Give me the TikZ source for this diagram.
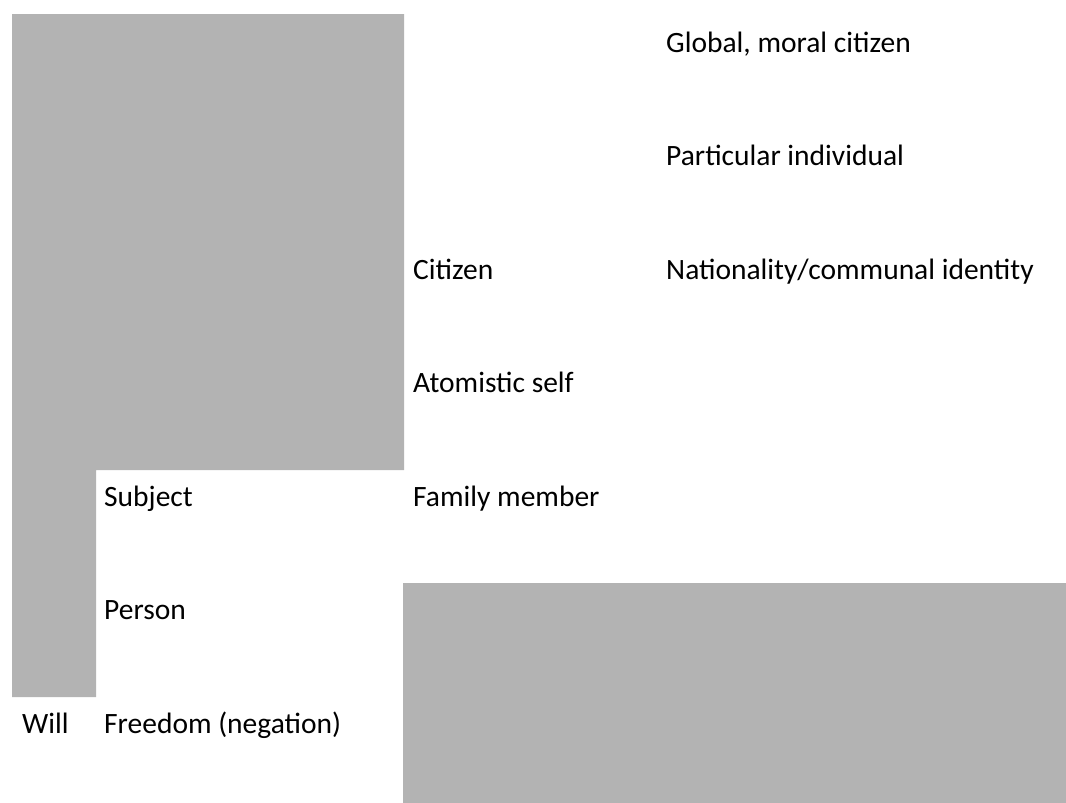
\documentclass[tikz,border=0pt]{standalone}
\usepackage{fontspec}
\setmainfont{Carlito}
\definecolor{shade}{RGB}{179,179,179}
\begin{document}
\begin{tikzpicture}[x=1pt,y=-1pt,
  lbl/.style={anchor=base west,inner sep=0pt,font=\fontsize{29.5}{35}\selectfont,text=black},
  block/.style={fill=shade,draw=none}]
\useasboundingbox (0,0) rectangle (1066,803);
\fill[block] (12,14) -- (404,14) -- (404,470) -- (96,470) -- (96,697) -- (12,697) -- cycle;
\fill[block] (403,583) rectangle (1066,803);
\node[lbl] (global) at (666,52) {Global, moral citizen};
\node[lbl] (partic) at (666,165.5) {Particular individual};
\node[lbl] (citizen) at (413,279) {Citizen};
\node[lbl] (nation) at (666,279) {Nationality/communal identity};
\node[lbl] (atom) at (413,392.5) {Atomistic self};
\node[lbl] (subject) at (104,506) {Subject};
\node[lbl] (family) at (413,506) {Family member};
\node[lbl] (person) at (104,619.5) {Person};
\node[lbl] (will) at (22,733) {Will};
\node[lbl] (freedom) at (104,733) {Freedom (negation)};
\end{tikzpicture}
\end{document}
